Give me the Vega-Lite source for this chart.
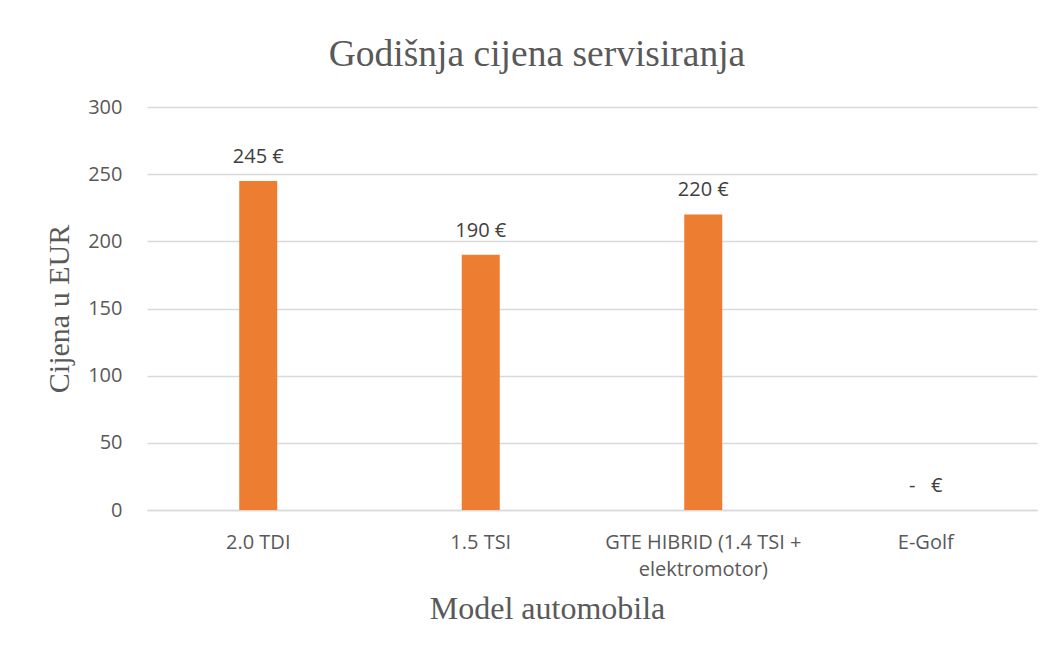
{
  "$schema": "https://vega.github.io/schema/vega-lite/v6.json",
  "width": 890,
  "height": 403,
  "autosize": {"type": "none"},
  "padding": {"left": 147, "top": 107, "right": 19, "bottom": 145},
  "background": "white",
  "title": {
    "text": "Godišnja cijena servisiranja",
    "font": "Liberation Serif",
    "fontSize": 37.5,
    "fontWeight": "normal",
    "color": "#595959",
    "anchor": "middle",
    "offset": 24,
    "dx": -55
  },
  "data": {
    "values": [
      {"model": "2.0 TDI", "cijena": 245, "oznaka": "245 €"},
      {"model": "1.5 TSI", "cijena": 190, "oznaka": "190 €"},
      {"model": "GTE HIBRID (1.4 TSI + elektromotor)", "cijena": 220, "oznaka": "220 €"},
      {"model": "E-Golf", "cijena": 0, "oznaka": "-\u00a0\u00a0\u00a0€"}
    ]
  },
  "encoding": {
    "x": {
      "field": "model",
      "type": "nominal",
      "sort": null,
      "scale": {"paddingInner": 0, "paddingOuter": 0},
      "axis": {
        "title": "Model automobila",
        "titleFont": "Liberation Serif",
        "titleFontSize": 32,
        "titleFontWeight": "normal",
        "titleColor": "#595959",
        "titlePadding": 14,
        "titleX": 400,
        "titleAlign": "center",
        "labelAngle": 0,
        "labelFont": "Open Sans",
        "labelFontSize": 20,
        "labelColor": "#595959",
        "labelPadding": 22,
        "labelLineHeight": 27,
        "labelLimit": 400,
        "labelExpr": "datum.value == 'GTE HIBRID (1.4 TSI + elektromotor)' ? ['GTE HIBRID (1.4 TSI +', 'elektromotor)'] : datum.value",
        "ticks": false,
        "domainColor": "#d9d9d9",
        "domainWidth": 1.5
      }
    },
    "y": {
      "field": "cijena",
      "type": "quantitative",
      "scale": {"domain": [0, 300]},
      "axis": {
        "title": "Cijena u EUR",
        "titleFont": "Liberation Serif",
        "titleFontSize": 30,
        "titleFontWeight": "normal",
        "titleColor": "#595959",
        "titlePadding": 13,
        "values": [0, 50, 100, 150, 200, 250, 300],
        "labelFont": "Open Sans",
        "labelFontSize": 20,
        "labelColor": "#595959",
        "labelPadding": 25,
        "ticks": false,
        "domain": false,
        "gridColor": "#d9d9d9",
        "gridWidth": 1.5
      }
    }
  },
  "layer": [
    {
      "mark": {"type": "bar", "width": 38, "color": "#ed7d31"}
    },
    {
      "mark": {
        "type": "text",
        "baseline": "alphabetic",
        "dy": -18,
        "font": "Open Sans",
        "fontSize": 20,
        "color": "#404040"
      },
      "encoding": {"text": {"field": "oznaka"}}
    }
  ],
  "config": {"view": {"stroke": null}}
}
